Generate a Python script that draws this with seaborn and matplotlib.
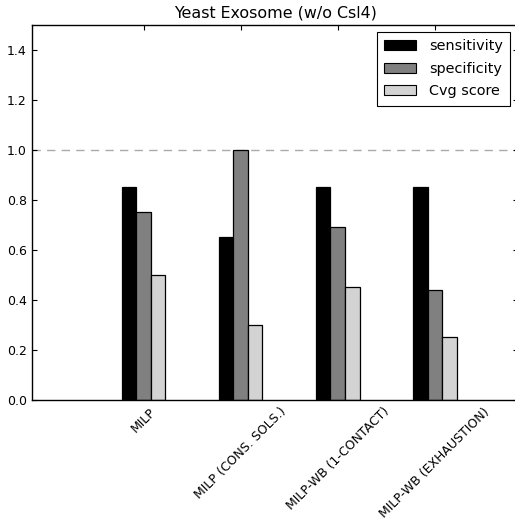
import matplotlib
matplotlib.use("Agg")
import matplotlib.pyplot as plt
import seaborn as sns
import pandas as pd
from matplotlib.patches import Patch

methods = ["MILP", "MILP (CONS. SOLS.)", "MILP-WB (1-CONTACT)", "MILP-WB (EXHAUSTION)"]
series = ["sensitivity", "specificity", "Cvg score"]
sensitivity = [0.85, 0.65, 0.85, 0.85]
specificity = [0.75, 1.00, 0.69, 0.44]
cvg_score = [0.50, 0.30, 0.45, 0.25]
colors = ["black", "gray", "lightgray"]

rows = []
for name, vals in zip(series, [sensitivity, specificity, cvg_score]):
    for m, v in zip(methods, vals):
        rows.append({"method": m, "metric": name, "value": v})
df = pd.DataFrame(rows)

sns.set_style("white")
plt.rcParams["font.family"] = ["DejaVu Sans"]
plt.rcParams["font.size"] = 9
plt.rcParams["text.color"] = "black"
plt.rcParams["xtick.color"] = "black"
plt.rcParams["ytick.color"] = "black"

fig = plt.figure(figsize=(5.15, 5.22), dpi=100)
ax = fig.add_axes([32.3 / 515, (522 - 399.7) / 522, (518 - 32.3) / 515, 375.2 / 522])

sns.barplot(data=df, x="method", y="value", hue="metric", order=methods,
            hue_order=series, palette=colors, width=0.45, saturation=1,
            edgecolor="black", linewidth=0.9, legend=False, ax=ax, errorbar=None)

ax.axhline(1.0, color="#aaaaaa", linestyle=(0, (6, 4.5)), linewidth=1.0, zorder=0)

ax.set_ylim(0, 1.5)
ax.set_xlim(-1.145, 3.856)
ax.set_yticks([0.0, 0.2, 0.4, 0.6, 0.8, 1.0, 1.2, 1.4])
ax.set_xlabel("")
ax.set_ylabel("")
ax.set_title("Yeast Exosome (w/o Csl4)", fontsize=11.4, pad=5)
ax.tick_params(axis="both", direction="in", length=3.5, width=0.8, color="black",
               top=True, right=True, bottom=True, left=True, labelsize=9, pad=4,
               labelcolor="black")
for lab in ax.get_xticklabels():
    lab.set_rotation(45)
    lab.set_ha("center")
for sp in ax.spines.values():
    sp.set_color("black")
    sp.set_linewidth(1.0)

handles = [Patch(facecolor=c, edgecolor="black", linewidth=0.8) for c in colors]
leg = ax.legend(handles, series, loc="upper right", bbox_to_anchor=(0.9835, 0.9805),
                borderaxespad=0, fancybox=False, framealpha=1, edgecolor="black",
                fontsize=10.4, handlelength=2.2, handleheight=0.7, labelspacing=0.6,
                borderpad=0.5, handletextpad=0.9)
leg.get_frame().set_linewidth(0.8)

fig.savefig("out.png", dpi=100)
